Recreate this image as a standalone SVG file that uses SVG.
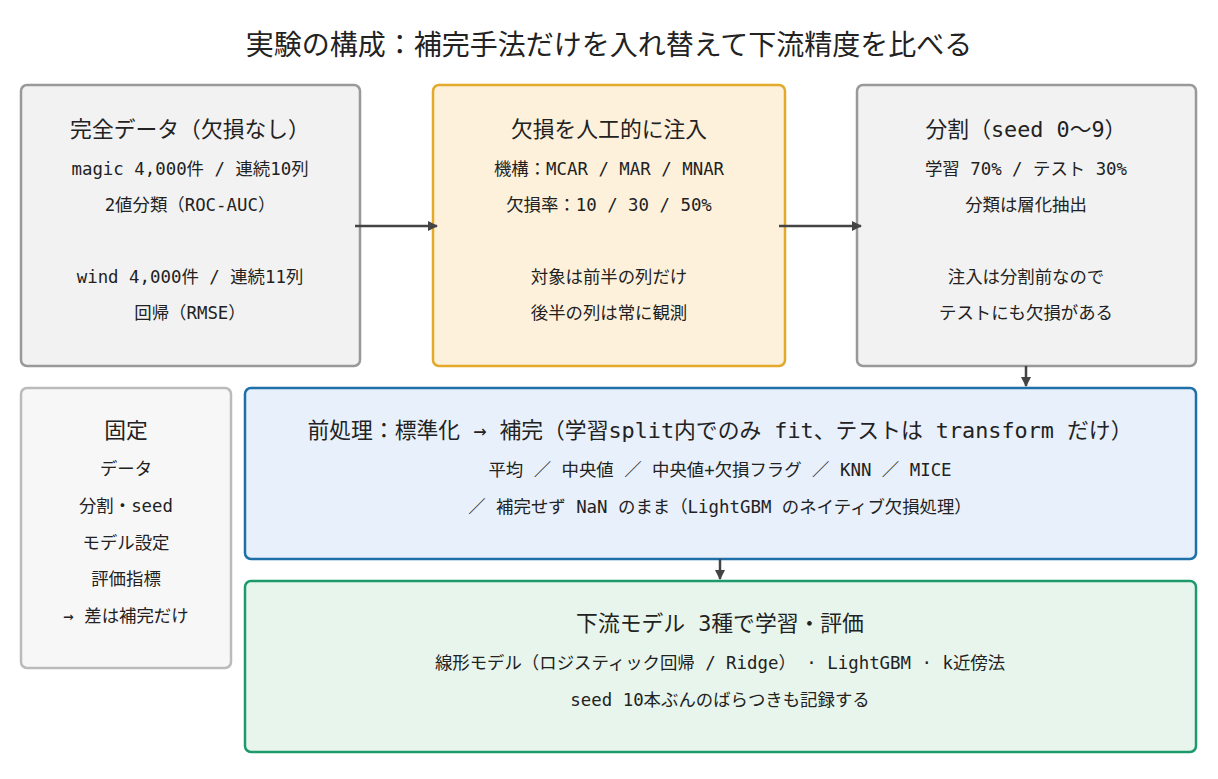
<svg xmlns="http://www.w3.org/2000/svg" width="1218" height="779" viewBox="0 0 1218 779">
<style>
text{font-family:"DejaVu Sans Mono","Noto Sans CJK JP",monospace;fill:#222;text-anchor:middle}
.t{font-size:28px}.h{font-size:21.8px}.l{font-size:17.4px}
rect{stroke-width:2.5}
.g{fill:#f2f2f2;stroke:#999}
</style>
<defs><marker id="a" markerWidth="10" markerHeight="10" refX="9" refY="5" orient="auto" markerUnits="userSpaceOnUse"><path d="M0,0L10,5L0,10z" fill="#444"/></marker></defs>
<rect width="1218" height="779" fill="#fff" stroke="none"/>
<text class="t" x="609" y="55">実験の構成：補完手法だけを入れ替えて下流精度を比べる</text>
<g id="n1"><rect class="g" x="21" y="85" width="339" height="281" rx="6"/>
<text class="h" x="190" y="137">完全データ（欠損なし）</text>
<text class="l" x="190" y="175">magic 4,000件 / 連続10列</text>
<text class="l" x="190" y="211">2値分類（ROC-AUC）</text>
<text class="l" x="190" y="283">wind 4,000件 / 連続11列</text>
<text class="l" x="190" y="319">回帰（RMSE）</text></g>
<g id="n2"><rect x="433" y="85" width="352" height="281" rx="6" fill="#fdf1dc" stroke="#e3a92a"/>
<text class="h" x="609" y="137">欠損を人工的に注入</text>
<text class="l" x="609" y="175">機構：MCAR / MAR / MNAR</text>
<text class="l" x="609" y="211">欠損率：10 / 30 / 50%</text>
<text class="l" x="609" y="283">対象は前半の列だけ</text>
<text class="l" x="609" y="319">後半の列は常に観測</text></g>
<g id="n3"><rect class="g" x="857" y="85" width="339" height="281" rx="6"/>
<text class="h" x="1026" y="137">分割（seed 0〜9）</text>
<text class="l" x="1026" y="175">学習 70% / テスト 30%</text>
<text class="l" x="1026" y="211">分類は層化抽出</text>
<text class="l" x="1026" y="283">注入は分割前なので</text>
<text class="l" x="1026" y="319">テストにも欠損がある</text></g>
<g id="n4"><rect x="21" y="388" width="210" height="280" rx="6" fill="#f7f7f7" stroke="#bbb"/>
<text class="h" x="126" y="438">固定</text>
<text class="l" x="126" y="475">データ</text>
<text class="l" x="126" y="512">分割・seed</text>
<text class="l" x="126" y="549">モデル設定</text>
<text class="l" x="126" y="585">評価指標</text>
<text class="l" x="126" y="622">→ 差は補完だけ</text></g>
<g id="n5"><rect x="245" y="388" width="951" height="171" rx="6" fill="#e8f0fb" stroke="#1f6fa8"/>
<text class="h" x="720" y="438">前処理：標準化 → 補完（学習split内でのみ fit、テストは transform だけ）</text>
<text class="l" x="720" y="476">平均 ／ 中央値 ／ 中央値+欠損フラグ ／ KNN ／ MICE</text>
<text class="l" x="720" y="513">／ 補完せず NaN のまま（LightGBM のネイティブ欠損処理）</text></g>
<g id="n6"><rect x="245" y="581" width="951" height="171" rx="6" fill="#e8f5ec" stroke="#1c9a6c"/>
<text class="h" x="720" y="631">下流モデル 3種で学習・評価</text>
<text class="l" x="720" y="669">線形モデル（ロジスティック回帰 / Ridge） · LightGBM · k近傍法</text>
<text class="l" x="720" y="706">seed 10本ぶんのばらつきも記録する</text></g>
<g id="edges" stroke="#444" stroke-width="2.5" fill="none">
<line x1="355" y1="226" x2="437" y2="226" marker-end="url(#a)"/>
<line x1="779" y1="226" x2="861" y2="226" marker-end="url(#a)"/>
<line x1="1026" y1="366" x2="1026" y2="386" marker-end="url(#a)"/>
<line x1="720" y1="559" x2="720" y2="579" marker-end="url(#a)"/>
</g>
</svg>
